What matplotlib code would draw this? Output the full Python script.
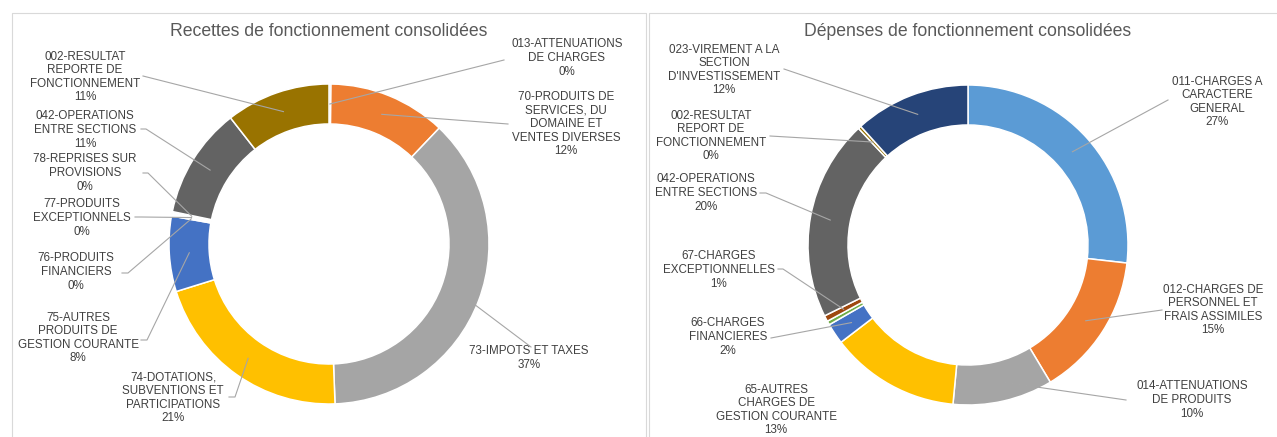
import numpy as np
import matplotlib.pyplot as plt

plt.rcParams['font.family'] = ['Liberation Sans', 'DejaVu Sans']

W, H = 1277, 437

# Recettes (left)
rec_names = ['013-ATTENUATIONS\nDE CHARGES',
             '70-PRODUITS DE\nSERVICES, DU\nDOMAINE ET\nVENTES DIVERSES',
             '73-IMPOTS ET TAXES',
             '74-DOTATIONS,\nSUBVENTIONS ET\nPARTICIPATIONS',
             '75-AUTRES\nPRODUITS DE\nGESTION COURANTE',
             '76-PRODUITS\nFINANCIERS',
             '77-PRODUITS\nEXCEPTIONNELS',
             '78-REPRISES SUR\nPROVISIONS',
             '042-OPERATIONS\nENTRE SECTIONS',
             '002-RESULTAT\nREPORTE DE\nFONCTIONNEMENT']
rec_values = [0.2, 11.9, 37.3, 20.8, 7.6, 0.15, 0.15, 0.15, 11.2, 10.55]
rec_colors = ['#5B9BD5', '#ED7D31', '#A5A5A5', '#FFC000', '#4472C4',
              '#70AD47', '#264478', '#9E480E', '#636363', '#997300']

# Dépenses (right)
dep_names = ['011-CHARGES A\nCARACTERE\nGENERAL',
             '012-CHARGES DE\nPERSONNEL ET\nFRAIS ASSIMILES',
             '014-ATTENUATIONS\nDE PRODUITS',
             '65-AUTRES\nCHARGES DE\nGESTION COURANTE',
             '66-CHARGES\nFINANCIERES',
             '',
             '67-CHARGES\nEXCEPTIONNELLES',
             '042-OPERATIONS\nENTRE SECTIONS',
             '002-RESULTAT\nREPORT DE\nFONCTIONNEMENT',
             '023-VIREMENT A LA\nSECTION\nD\'INVESTISSEMENT']
dep_values = [26.8, 14.6, 10.1, 13.1, 2.1, 0.4, 0.6, 20.3, 0.3, 11.7]
dep_colors = ['#5B9BD5', '#ED7D31', '#A5A5A5', '#FFC000', '#4472C4',
              '#70AD47', '#9E480E', '#636363', '#997300', '#264478']

# label layout (pixel coords, y from top): text centre, leader start, elbow
rec_layout = [((567, 58), (504, 60), None),
              ((566, 124), (508, 124), None),
              ((529, 358), (531, 347), None),
              ((173, 398), (229, 397), (235, 397)),
              ((78, 338), (141, 340), (147, 340)),
              ((76, 272), (122, 273), (128, 273)),
              ((82, 218), (135, 217), (141, 217)),
              ((85, 173), (143, 173), (148, 173)),
              ((85, 130), (141, 129), (146, 129)),
              ((85, 77), (143, 76), None)]
dep_layout = [((1217, 102), (1168, 100), None),
              ((1213, 310), (1162, 310), None),
              ((1192, 400), (1126, 400), None),
              ((776, 410), None, None),
              ((728, 337), (771, 338), None),
              (None, None, None),
              ((719, 270), (778, 269), (783, 269)),
              ((706, 193), (760, 193), (766, 193)),
              ((711, 136), (770, 136), None),
              ((724, 70), (784, 69), None)]

fig = plt.figure(figsize=(W / 100, H / 100), dpi=100)
ax = fig.add_axes([0, 0, 1, 1])


def Y(y):
    return H - y


def donut(names, values, colors, layout, center, title):
    cx, cy = center
    R = 160
    wedges, _ = ax.pie(values, colors=colors, startangle=90, counterclock=False,
                       radius=R, center=(cx, Y(cy)),
                       wedgeprops=dict(width=40, edgecolor='white', linewidth=1.1))
    total = sum(values)
    for w, name, v, (tpos, start, elbow) in zip(wedges, names, values, layout):
        if tpos is None or not name:
            continue
        pct = int(np.floor(v / total * 100 + 0.5))
        ax.text(tpos[0], Y(tpos[1]), f'{name}\n{pct}%', ha='center', va='center',
                fontsize=8.4, color='#404040', linespacing=1.18)
        if start is None:
            continue
        a = np.deg2rad((w.theta1 + w.theta2) / 2)
        ex, ey = cx + 140 * np.cos(a), Y(cy) + 140 * np.sin(a)
        xs = [start[0]]
        ys = [Y(start[1])]
        if elbow is not None:
            xs.append(elbow[0])
            ys.append(Y(elbow[1]))
        xs.append(ex)
        ys.append(ey)
        ax.plot(xs, ys, color='#A6A6A6', lw=0.8, zorder=5)
    ax.text(cx, Y(32), title, ha='center', va='center', fontsize=12.7,
            color='#595959')


donut(rec_names, rec_values, rec_colors, rec_layout, (329, 244),
      'Recettes de fonctionnement consolidées')
donut(dep_names, dep_values, dep_colors, dep_layout, (968, 245),
      'Dépenses de fonctionnement consolidées')

# panel borders
bc = '#D9D9D9'
ax.plot([12, 12, 646, 646], [Y(440), Y(12.7), Y(12.7), Y(440)], color=bc, lw=0.8)
ax.plot([649, 649, 1280], [Y(440), Y(12.7), Y(12.7)], color=bc, lw=0.8)

ax.set_xlim(0, W)
ax.set_ylim(0, H)
ax.set_aspect('auto')
ax.axis('off')

fig.savefig('out.png', dpi=100, facecolor='white')
